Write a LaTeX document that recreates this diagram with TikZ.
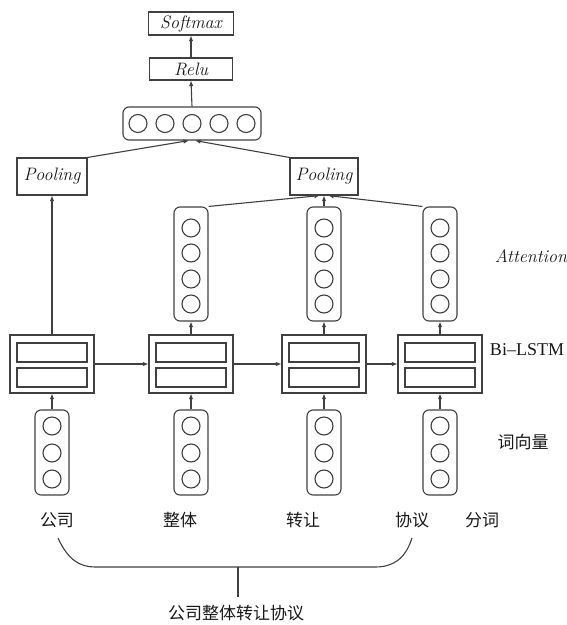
\documentclass[tikz,border=0pt]{standalone}
\usepackage{fontspec}
\newfontfamily\cjk{Noto Sans CJK SC}
\newfontfamily\tnr{Liberation Serif}
\usetikzlibrary{arrows.meta}
\begin{document}
\begin{tikzpicture}[x=1pt,y=-1pt,
  ln/.style={draw=black!75, line width=1.1pt},
  ar/.style={ln, -{Latex[length=5.5pt,width=4.5pt]}},
  vbox/.style={ln, rounded corners=6pt, minimum width=34pt, inner sep=0pt},
  cir/.style={ln, circle, minimum size=18pt, inner sep=0pt},
  plainbox/.style={ln, rectangle, inner sep=0pt},
  txt/.style={text=black!90, font=\fontsize{18}{20}\selectfont},
  ctxt/.style={text=black!90, font=\fontsize{17}{19}\selectfont\cjk},
  itxt/.style={text=black!90, font=\fontsize{18}{20}\selectfont\itshape}
]
\useasboundingbox (0,0) rectangle (566,625);

% top part
\node[plainbox, minimum width=85pt, minimum height=23pt, itxt] (soft) at (191,23.5) {Softmax};
\node[plainbox, minimum width=83pt, minimum height=22pt, itxt] (relu) at (191,69) {Relu};
\node[vbox, minimum width=138pt, minimum height=33pt] (vec) at (192,123.5) {};
\foreach \k/\x in {1/138,2/165,3/192,4/219,5/246}
  \node[cir] (vc\k) at (\x,123.5) {};
\draw[ar] (vec.north) -- (relu.south);
\draw[ar] (relu.north) -- (soft.south);

% pooling
\node[plainbox, minimum width=70pt, minimum height=37pt, itxt] (pl) at (52,176.5) {Pooling};
\node[plainbox, minimum width=68pt, minimum height=37pt, itxt] (pr) at (324,176.5) {Pooling};
\draw[ar] (pl.north east) -- ([xshift=-3pt]vec.south);
\draw[ar] (pr.north west) -- ([xshift=3pt]vec.south);

% columns
\foreach \i/\x in {1/52,2/191,3/324,4/440}{
  \node[plainbox, minimum width=84pt, minimum height=58pt] (b\i) at (\x,364) {};
  \node[plainbox, minimum width=70pt, minimum height=19pt] (b\i u) at (\x,352.5) {};
  \node[plainbox, minimum width=70pt, minimum height=19pt] (b\i d) at (\x,377.5) {};
  \node[vbox, minimum height=85pt] (e\i) at (\x,452.5) {};
  \foreach \k/\y in {1/426,2/453,3/479}
    \node[cir] (e\i c\k) at (\x,\y) {};
  \draw[ar] (e\i.north) -- (b\i.south);
}
\foreach \i/\x in {2/191,3/324,4/440}{
  \node[vbox, minimum height=114pt] (a\i) at (\x,264) {};
  \foreach \k/\y in {1/228,2/253,3/279,4/304}
    \node[cir] (a\i c\k) at (\x,\y) {};
  \draw[ar] (b\i.north) -- (a\i.south);
}
\draw[ar] (b1.north) -- (pl.south);
\draw[ar] (b1.east) -- (b2.west);
\draw[ar] (b2.east) -- (b3.west);
\draw[ar] (b3.east) -- (b4.west);

\draw[ar] (a2.north east) -- ([xshift=-4pt]pr.south);
\draw[ar] (a3.north) -- (pr.south);
\draw[ar] (a4.north west) -- ([xshift=4pt]pr.south);

% words
\node[ctxt] (w1) at (57,520) {公司};
\node[ctxt] (w2) at (180,520) {整体};
\node[ctxt] (w3) at (303,520) {转让};
\node[ctxt] (w4) at (412,520) {协议};

% labels
\node[itxt] (lat) at (531,256) {Attention};
\node[txt, font=\fontsize{18}{20}\selectfont\tnr] (lbi) at (527,350) {Bi–LSTM};
\node[ctxt] (lwv) at (523,442) {词向量};
\node[ctxt] (lfc) at (482,520) {分词};

% brace
\coordinate (bl) at (58,538);
\coordinate (br) at (412,538);
\coordinate (bm) at (238,567);
\node[ctxt] (all) at (236,613) {公司整体转让协议};
\draw[ln] (bl) .. controls (68,560) and (80,567) .. (95,567) -- (375,567) .. controls (392,567) and (405,560) .. (br);
\draw[ln] (bm) -- (238,597);
\end{tikzpicture}
\end{document}
